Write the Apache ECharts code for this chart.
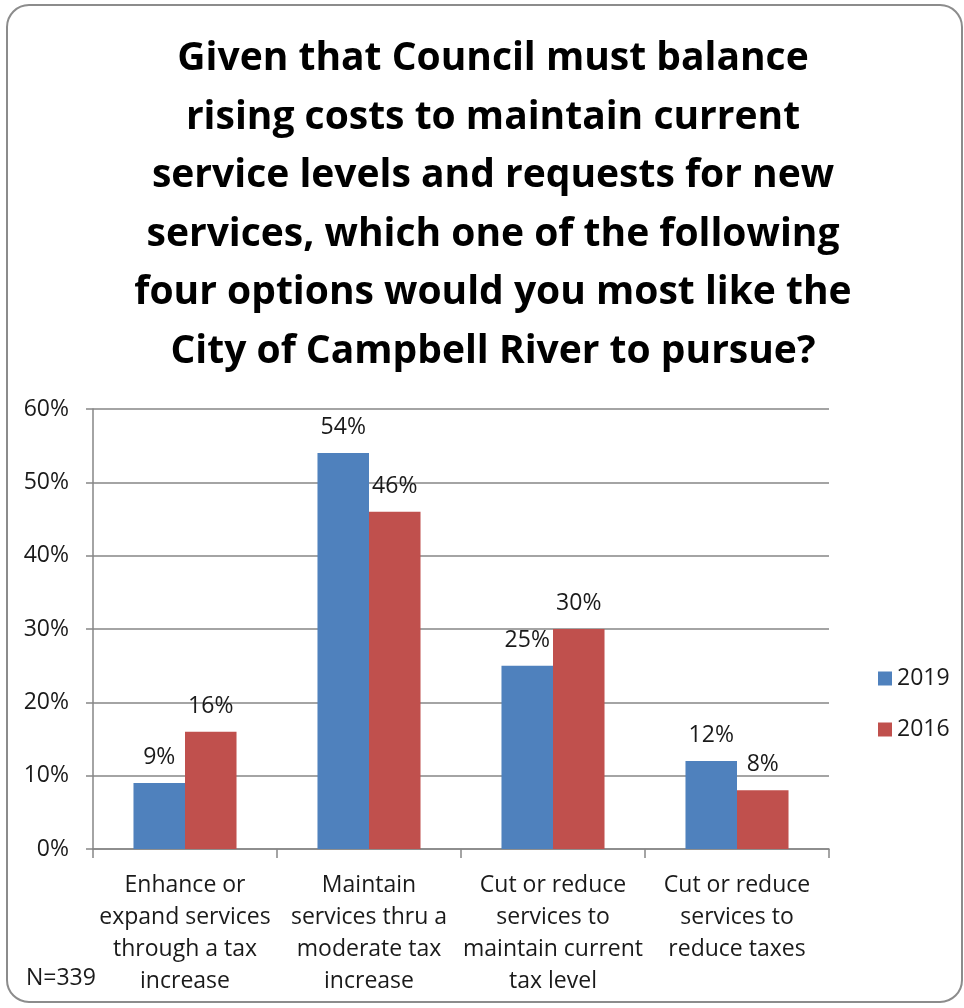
<!DOCTYPE html>
<html>
<head>
<meta charset="utf-8">
<script src="https://cdn.jsdelivr.net/npm/echarts@6/dist/echarts.min.js"></script>
<style>
  html, body { margin: 0; padding: 0; background: #fff; }
  #chart { width: 964px; height: 1008px; }
</style>
</head>
<body>
<div id="chart"></div>
<script>
// Survey response options (wrapped as they appear under the axis)
const categories = [
  'Enhance or\nexpand services\nthrough a tax\nincrease',
  'Maintain\nservices thru a\nmoderate tax\nincrease',
  'Cut or reduce\nservices to\nmaintain current\ntax level',
  'Cut or reduce\nservices to\nreduce taxes'
];
const years = ['2019', '2016'];
const values2019 = [9, 54, 25, 12];
const values2016 = [16, 46, 30, 8];
const yTicks = [0, 10, 20, 30, 40, 50, 60];

const titleText = 'Given that Council must balance\nrising costs to maintain current\nservice levels and requests for new\nservices, which one of the following\nfour options would you most like the\nCity of Campbell River to pursue?';

const FONT = '"Open Sans", Lato, sans-serif';
const TEXT_COLOR = '#1a1a1a';
const chart = echarts.init(document.getElementById('chart'));

const barLabel = {
  show: true,
  position: 'top',
  distance: 14,
  fontFamily: FONT,
  fontSize: 23,
  color: TEXT_COLOR,
  formatter: p => p.value + '%'
};

chart.setOption({
  backgroundColor: '#ffffff',
  animation: false,
  title: {
    text: titleText,
    left: 488,
    top: 25,
    textAlign: 'center',
    textStyle: {
      fontFamily: FONT,
      fontWeight: 'bold',
      fontSize: 39,
      lineHeight: 58.5,
      color: '#000000'
    }
  },
  legend: {
    orient: 'vertical',
    left: 873,
    top: 662,
    itemWidth: 14,
    itemHeight: 14,
    itemGap: 28,
    icon: 'rect',
    data: years,
    textStyle: { fontFamily: FONT, fontSize: 23, color: TEXT_COLOR }
  },
  grid: { left: 93, right: 135, top: 409, bottom: 159 },
  xAxis: {
    type: 'category',
    data: categories,
    axisLine: { lineStyle: { color: '#868686', width: 1.5 } },
    axisTick: { show: true, length: 9, lineStyle: { color: '#868686', width: 1.5 } },
    axisLabel: {
      interval: 0,
      margin: 20,
      fontFamily: FONT,
      fontSize: 23,
      lineHeight: 32,
      color: TEXT_COLOR,
      align: 'center'
    }
  },
  yAxis: {
    type: 'value',
    min: yTicks[0],
    max: yTicks[yTicks.length - 1],
    interval: 10,
    axisLine: { show: true, lineStyle: { color: '#868686', width: 1.5 } },
    axisTick: { show: true, length: 7, lineStyle: { color: '#868686', width: 1.5 } },
    splitLine: { lineStyle: { color: '#868686', width: 1.5 } },
    axisLabel: {
      margin: 24,
      fontFamily: FONT,
      fontSize: 23,
      color: TEXT_COLOR,
      formatter: v => v + '%'
    }
  },
  series: [
    {
      name: years[0],
      type: 'bar',
      data: values2019,
      barGap: '0%',
      barCategoryGap: '44%',
      itemStyle: { color: '#4F81BD' },
      label: barLabel
    },
    {
      name: years[1],
      type: 'bar',
      data: values2016,
      itemStyle: { color: '#C0504D' },
      label: barLabel
    }
  ],
  graphic: [
    {
      type: 'rect',
      z: -1,
      shape: { x: 7, y: 5, width: 955, height: 997, r: 22 },
      style: { fill: 'none', stroke: '#8c8c8c', lineWidth: 2 }
    },
    {
      type: 'text',
      left: 26,
      top: 967,
      style: { text: 'N=339', font: '23px ' + FONT, fill: TEXT_COLOR }
    }
  ]
});
</script>
</body>
</html>
